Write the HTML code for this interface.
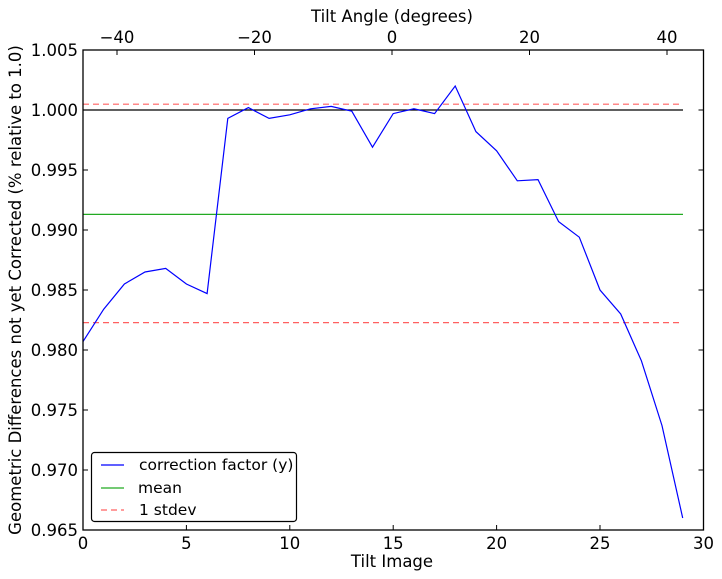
<!DOCTYPE html>
<html><head><style>body{margin:0;background:#fff}svg{display:block}text{font-family:"DejaVu Sans",sans-serif;fill:#000}</style></head>
<body>
<svg width="722" height="579" viewBox="0 0 722 579" xmlns="http://www.w3.org/2000/svg">
<rect width="722" height="579" fill="#fff"/>
<g font-size="16.5">
<line x1="83" y1="104.2" x2="683" y2="104.2" stroke="#ff6060" stroke-width="1.2" stroke-dasharray="6,4"/>
<line x1="83" y1="322.6" x2="683" y2="322.6" stroke="#ff6060" stroke-width="1.2" stroke-dasharray="6,4"/>
<line x1="83" y1="110" x2="683" y2="110" stroke="#000" stroke-width="1.2"/>
<line x1="83" y1="214.4" x2="683" y2="214.4" stroke="#22aa22" stroke-width="1.2"/>
<polyline fill="none" stroke="#0000ff" stroke-width="1.2" points="83,341.6 103.7,309.2 124.4,284 145,272 165.7,268.4 186.4,284 207.1,293.6 227.8,118.4 248.4,107.6 269.1,118.4 289.8,114.8 310.5,108.8 331.2,106.4 351.8,111.2 372.5,147.2 393.2,113.6 413.9,108.8 434.6,113.6 455.2,86 475.9,131.6 496.6,150.8 517.3,180.8 538,179.6 558.6,221.6 579.3,237.2 600,290 620.7,314 641.4,360.8 662,425.6 682.7,518"/>
<rect x="83" y="50" width="620.5" height="480" fill="none" stroke="#000" stroke-width="1.3"/>
<g stroke="#000">
<line x1="186.4" y1="530" x2="186.4" y2="525"/><line x1="289.8" y1="530" x2="289.8" y2="525"/><line x1="393.2" y1="530" x2="393.2" y2="525"/><line x1="496.6" y1="530" x2="496.6" y2="525"/><line x1="600" y1="530" x2="600" y2="525"/>
<line x1="117" y1="50" x2="117" y2="55"/><line x1="254.5" y1="50" x2="254.5" y2="55"/><line x1="392" y1="50" x2="392" y2="55"/><line x1="529.5" y1="50" x2="529.5" y2="55"/><line x1="667" y1="50" x2="667" y2="55"/>
<line x1="83" y1="110" x2="88" y2="110"/><line x1="83" y1="170" x2="88" y2="170"/><line x1="83" y1="230" x2="88" y2="230"/><line x1="83" y1="290" x2="88" y2="290"/><line x1="83" y1="350" x2="88" y2="350"/><line x1="83" y1="410" x2="88" y2="410"/><line x1="83" y1="470" x2="88" y2="470"/>
<line x1="703.5" y1="110" x2="698.5" y2="110"/><line x1="703.5" y1="170" x2="698.5" y2="170"/><line x1="703.5" y1="230" x2="698.5" y2="230"/><line x1="703.5" y1="290" x2="698.5" y2="290"/><line x1="703.5" y1="350" x2="698.5" y2="350"/><line x1="703.5" y1="410" x2="698.5" y2="410"/><line x1="703.5" y1="470" x2="698.5" y2="470"/>
</g>
<g text-anchor="middle">
<text x="83" y="549">0</text><text x="186.4" y="549">5</text><text x="289.8" y="549">10</text><text x="393.2" y="549">15</text><text x="496.6" y="549">20</text><text x="600" y="549">25</text><text x="703.5" y="549">30</text>
<text x="117" y="43">−40</text><text x="254.5" y="43">−20</text><text x="392" y="43">0</text><text x="529.5" y="43">20</text><text x="667" y="43">40</text>
<text x="392" y="567">Tilt Image</text>
<text x="392" y="22">Tilt Angle (degrees)</text>
</g>
<g text-anchor="end">
<text x="78" y="56">1.005</text><text x="78" y="116">1.000</text><text x="78" y="176">0.995</text><text x="78" y="236">0.990</text><text x="78" y="296">0.985</text><text x="78" y="356">0.980</text><text x="78" y="416">0.975</text><text x="78" y="476">0.970</text><text x="78" y="536">0.965</text>
</g>
<text transform="translate(21,290) rotate(-90)" text-anchor="middle" font-size="16.5">Geometric Differences not yet Corrected (% relative to 1.0)</text>
<rect x="91.5" y="452.5" width="205" height="69" rx="3" fill="#fff" stroke="#000" stroke-width="1.2"/>
<line x1="101" y1="465" x2="124" y2="465" stroke="#0000ff" stroke-width="1.2"/>
<line x1="101" y1="488" x2="124" y2="488" stroke="#22aa22" stroke-width="1.2"/>
<line x1="101" y1="510" x2="124" y2="510" stroke="#ff6060" stroke-width="1.2" stroke-dasharray="6,4"/>
<g font-size="15.5">
<text x="139" y="470">correction factor (y)</text>
<text x="138" y="493">mean</text>
<text x="139" y="515">1 stdev</text>
</g>
</g>
</svg>
</body></html>
